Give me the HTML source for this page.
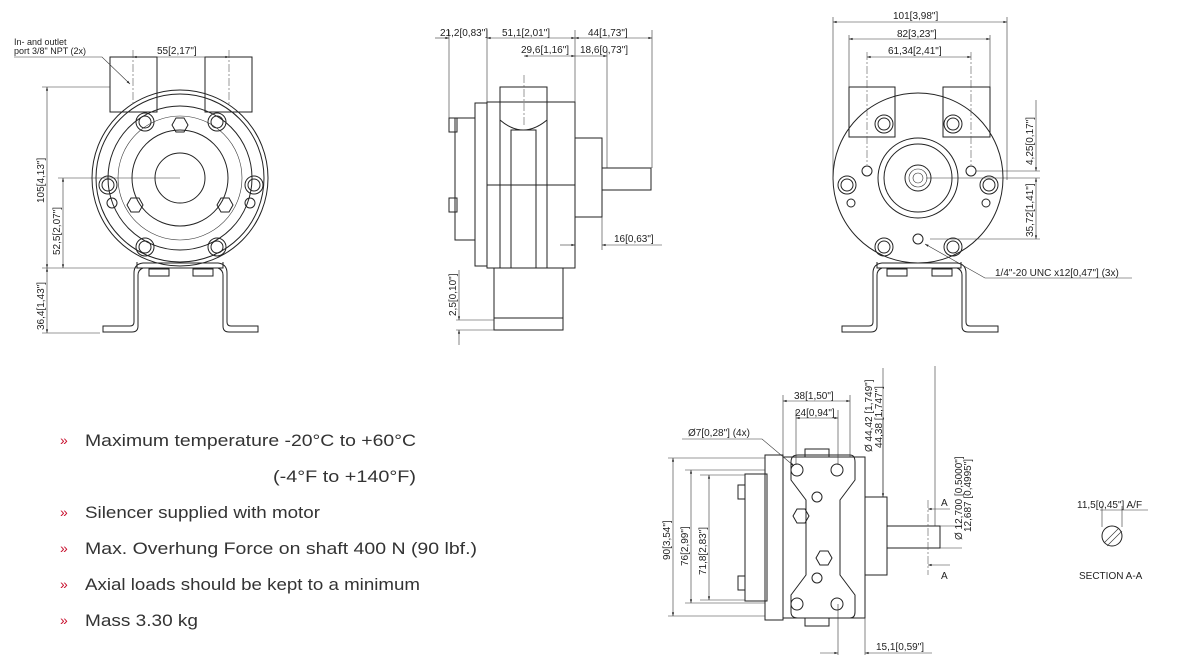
<!DOCTYPE html>
<html><head><meta charset="utf-8"><style>
html,body{margin:0;padding:0;background:#fff}
svg{display:block}
.l{fill:none;stroke:#222;stroke-width:1}
.t{fill:none;stroke:#333;stroke-width:0.6}
.d{font-family:"Liberation Sans",sans-serif;font-size:10px;fill:#222}
.b{font-family:"Liberation Sans",sans-serif;font-size:17px;fill:#333}
.r{font-family:"Liberation Sans",sans-serif;font-size:14px;fill:#c8102e}
.c{fill:none;stroke:#555;stroke-width:0.6;stroke-dasharray:8 2 2 2}
</style></head><body>
<svg width="1178" height="665" viewBox="0 0 1178 665" xmlns="http://www.w3.org/2000/svg">
<defs>
<marker id="a" viewBox="0 0 10 10" refX="10" refY="5" markerWidth="8" markerHeight="6" orient="auto-start-reverse"><path d="M0 2L10 5L0 8z" fill="#222"/></marker>
<g id="bolt"><circle r="9" class="l"/><circle r="6" class="l"/></g>
<g id="hex"><polygon points="-8,0 -4,-7 4,-7 8,0 4,7 -4,7" class="l"/></g>
</defs>

<!-- ===== VIEW 1 front ===== -->
<rect x="110" y="57" width="47" height="55" class="l"/>
<rect x="205" y="57" width="47" height="55" class="l"/>
<circle cx="180" cy="178" r="88" fill="#fff" class="l"/>
<circle cx="180" cy="178" r="84" class="l"/>
<circle cx="180" cy="178" r="72" class="l"/>
<circle cx="180" cy="178" r="62" class="t"/>
<circle cx="180" cy="178" r="48" class="l"/>
<circle cx="180" cy="178" r="25" class="l"/>
<use href="#bolt" x="145" y="122"/><use href="#bolt" x="217" y="122"/>
<use href="#bolt" x="108" y="185"/><use href="#bolt" x="254" y="185"/>
<use href="#bolt" x="145" y="247"/><use href="#bolt" x="217" y="247"/>
<circle cx="112" cy="203" r="5" class="l"/><circle cx="250" cy="203" r="5" class="l"/>
<use href="#hex" x="180" y="125"/><use href="#hex" x="135" y="205"/><use href="#hex" x="225" y="205"/>
<path d="M137 262V268H223V262" class="l"/>
<path d="M103 332H132Q138 332 138 326V275Q138 270 143 268H218Q223 270 223 275V326Q223 332 229 332H258V326H231Q227 326 227 322V273Q227 264 218 263H143Q134 264 134 273V322Q134 326 130 326H103Z" class="l"/>
<rect x="149" y="269" width="20" height="7" class="l"/><rect x="193" y="269" width="20" height="7" class="l"/>
<!-- dims -->
<line x1="133" y1="50" x2="133" y2="105" class="c"/><line x1="229" y1="50" x2="229" y2="105" class="c"/>
<line x1="133" y1="57" x2="229" y2="57" class="t" marker-start="url(#a)" marker-end="url(#a)"/>
<text x="157" y="54" class="d">55[2,17"]</text>
<text x="14" y="45" class="d" style="font-size:9px">In- and outlet</text>
<text x="14" y="54" class="d" style="font-size:9px">port 3/8" NPT (2x)</text>
<path d="M14 57H102L130 84" class="t" marker-end="url(#a)"/>
<line x1="42" y1="87" x2="110" y2="87" class="t"/>
<line x1="42" y1="268" x2="137" y2="268" class="t"/>
<line x1="42" y1="333" x2="100" y2="333" class="t"/>
<line x1="58" y1="178" x2="180" y2="178" class="t"/>
<line x1="47" y1="87" x2="47" y2="268" class="t" marker-start="url(#a)" marker-end="url(#a)"/>
<line x1="63" y1="178" x2="63" y2="268" class="t" marker-start="url(#a)" marker-end="url(#a)"/>
<line x1="47" y1="268" x2="47" y2="333" class="t" marker-start="url(#a)" marker-end="url(#a)"/>
<text transform="translate(44,203) rotate(-90)" class="d">105[4,13"]</text>
<text transform="translate(60,255) rotate(-90)" class="d">52,5[2,07"]</text>
<text transform="translate(44,330) rotate(-90)" class="d">36,4[1,43"]</text>

<!-- ===== VIEW 2 side ===== -->
<rect x="500" y="87" width="47" height="181" class="l"/>
<rect x="487" y="102" width="88" height="166" fill="none" class="l"/>
<path d="M500 120Q523 140 547 120" class="l"/>
<rect x="511" y="130" width="25" height="138" class="l"/>
<line x1="487" y1="185" x2="575" y2="185" class="l"/>
<rect x="475" y="103" width="12" height="163" class="l"/>
<rect x="455" y="118" width="20" height="122" class="l"/>
<rect x="449" y="118" width="8" height="14" class="l"/><rect x="449" y="198" width="8" height="14" class="l"/>
<rect x="575" y="138" width="27" height="79" class="l"/>
<rect x="602" y="168" width="49" height="22" class="l"/>
<rect x="494" y="268" width="69" height="62" class="l"/>
<line x1="494" y1="318" x2="563" y2="318" class="l"/>
<line x1="524" y1="75" x2="524" y2="125" class="c"/>
<!-- dims -->
<line x1="449" y1="30" x2="449" y2="118" class="t"/>
<line x1="487" y1="30" x2="487" y2="102" class="t"/>
<line x1="575" y1="30" x2="575" y2="140" class="t"/>
<line x1="652" y1="30" x2="652" y2="168" class="t"/>
<line x1="607" y1="50" x2="607" y2="168" class="t"/>
<line x1="435" y1="38" x2="449" y2="38" class="t" marker-end="url(#a)"/>
<line x1="487" y1="38" x2="575" y2="38" class="t" marker-start="url(#a)" marker-end="url(#a)"/>
<line x1="575" y1="38" x2="652" y2="38" class="t" marker-start="url(#a)" marker-end="url(#a)"/>
<line x1="524" y1="56" x2="575" y2="56" class="t" marker-start="url(#a)" marker-end="url(#a)"/>
<line x1="575" y1="56" x2="607" y2="56" class="t" marker-end="url(#a)"/>
<text x="440" y="36" class="d">21,2[0,83"]</text>
<text x="502" y="36" class="d">51,1[2,01"]</text>
<text x="588" y="36" class="d">44[1,73"]</text>
<text x="521" y="53" class="d">29,6[1,16"]</text>
<text x="580" y="53" class="d">18,6[0,73"]</text>
<line x1="560" y1="245" x2="575" y2="245" class="t" marker-end="url(#a)"/>
<line x1="602" y1="245" x2="662" y2="245" class="t" marker-start="url(#a)"/>
<line x1="602" y1="217" x2="602" y2="250" class="t"/>
<text x="614" y="242" class="d">16[0,63"]</text>
<line x1="456" y1="320" x2="494" y2="320" class="t"/><line x1="456" y1="330" x2="494" y2="330" class="t"/>
<line x1="459" y1="270" x2="459" y2="320" class="t" marker-end="url(#a)"/>
<line x1="459" y1="345" x2="459" y2="330" class="t" marker-end="url(#a)"/>
<text transform="translate(456,316) rotate(-90)" class="d">2,5[0,10"]</text>

<!-- ===== VIEW 3 rear ===== -->
<rect x="849" y="87" width="46" height="50" class="l"/>
<rect x="943" y="87" width="47" height="50" class="l"/>
<circle cx="918" cy="178" r="85" fill="#fff" class="l"/>
<circle cx="918" cy="178" r="40" class="l"/><circle cx="918" cy="178" r="34" class="l"/>
<circle cx="918" cy="178" r="13" class="l"/><circle cx="918" cy="178" r="9" class="t"/><circle cx="918" cy="178" r="5" class="t"/>
<use href="#bolt" x="884" y="124"/><use href="#bolt" x="953" y="124"/>
<use href="#bolt" x="847" y="185"/><use href="#bolt" x="989" y="185"/>
<use href="#bolt" x="884" y="247"/><use href="#bolt" x="953" y="247"/>
<circle cx="867" cy="171" r="5" class="l"/><circle cx="971" cy="171" r="5" class="l"/>
<circle cx="851" cy="203" r="4" class="l"/><circle cx="986" cy="203" r="4" class="l"/>
<circle cx="918" cy="239" r="5" class="l"/>
<path d="M877 262V268H961V262" class="l"/>
<path d="M842 332H871Q877 332 877 326V275Q877 270 882 268H957Q962 270 962 275V326Q962 332 968 332H998V326H970Q966 326 966 322V273Q966 264 957 263H882Q873 264 873 273V322Q873 326 869 326H842Z" class="l"/>
<rect x="887" y="269" width="20" height="7" class="l"/><rect x="932" y="269" width="20" height="7" class="l"/>
<line x1="833" y1="17" x2="833" y2="180" class="t"/><line x1="1007" y1="17" x2="1007" y2="180" class="t"/>
<line x1="849" y1="35" x2="849" y2="87" class="t"/><line x1="990" y1="35" x2="990" y2="87" class="t"/>
<line x1="867" y1="52" x2="867" y2="165" class="c"/><line x1="971" y1="52" x2="971" y2="165" class="c"/>
<line x1="833" y1="22" x2="1007" y2="22" class="t" marker-start="url(#a)" marker-end="url(#a)"/>
<line x1="849" y1="39" x2="990" y2="39" class="t" marker-start="url(#a)" marker-end="url(#a)"/>
<line x1="867" y1="57" x2="971" y2="57" class="t" marker-start="url(#a)" marker-end="url(#a)"/>
<text x="893" y="19" class="d">101[3,98"]</text>
<text x="897" y="37" class="d">82[3,23"]</text>
<text x="888" y="54" class="d">61,34[2,41"]</text>
<line x1="976" y1="171" x2="1040" y2="171" class="t"/><line x1="926" y1="178" x2="1040" y2="178" class="t"/><line x1="930" y1="239" x2="1040" y2="239" class="t"/>
<line x1="1036" y1="100" x2="1036" y2="171" class="t" marker-end="url(#a)"/>
<line x1="1036" y1="178" x2="1036" y2="239" class="t" marker-start="url(#a)" marker-end="url(#a)"/>
<text transform="translate(1033,165) rotate(-90)" class="d">4,25[0,17"]</text>
<text transform="translate(1033,237) rotate(-90)" class="d">35,72[1,41"]</text>
<path d="M1132 278H985L925 244" class="t" marker-end="url(#a)"/>
<text x="995" y="276" class="d">1/4"-20 UNC x12[0,47"] (3x)</text>

<!-- ===== VIEW 4 bottom ===== -->
<rect x="783" y="457" width="82" height="161" class="l"/>
<rect x="765" y="455" width="18" height="165" class="l"/>
<rect x="745" y="474" width="22" height="127" class="l"/>
<rect x="738" y="485" width="7" height="14" class="l"/><rect x="738" y="576" width="7" height="14" class="l"/>
<path d="M798 455H850Q855 455 855 462V480L840 500V575L855 595V612Q855 618 850 618H798Q791 618 791 612V595L806 575V500L791 480V462Q791 455 798 455Z" class="l"/>
<rect x="805" y="449" width="24" height="8" class="l"/><rect x="805" y="618" width="24" height="8" class="l"/>
<circle cx="797" cy="470" r="6" class="l"/><circle cx="837" cy="470" r="6" class="l"/>
<circle cx="797" cy="604" r="6" class="l"/><circle cx="837" cy="604" r="6" class="l"/>
<use href="#hex" x="801" y="516"/><use href="#hex" x="824" y="558"/>
<circle cx="817" cy="497" r="5" class="l"/><circle cx="817" cy="578" r="5" class="l"/>
<rect x="865" y="497" width="22" height="78" class="l"/>
<rect x="887" y="526" width="53" height="22" class="l"/>
<line x1="940" y1="526" x2="962" y2="526" class="t"/><line x1="940" y1="548" x2="962" y2="548" class="t"/>
<line x1="928" y1="500" x2="928" y2="575" class="c"/>
<line x1="928" y1="509" x2="950" y2="509" class="t" marker-start="url(#a)"/>
<line x1="928" y1="565" x2="950" y2="565" class="t" marker-start="url(#a)"/>
<text x="941" y="506" class="d">A</text><text x="941" y="579" class="d">A</text>
<!-- dims -->
<line x1="783" y1="395" x2="783" y2="457" class="t"/><line x1="850" y1="395" x2="850" y2="457" class="t"/>
<line x1="796" y1="410" x2="796" y2="465" class="t"/><line x1="838" y1="410" x2="838" y2="465" class="t"/>
<line x1="783" y1="401" x2="850" y2="401" class="t" marker-start="url(#a)" marker-end="url(#a)"/>
<line x1="796" y1="418" x2="838" y2="418" class="t" marker-start="url(#a)" marker-end="url(#a)"/>
<text x="794" y="399" class="d">38[1,50"]</text>
<text x="795" y="416" class="d">24[0,94"]</text>
<path d="M682 439H762L794 466" class="t" marker-end="url(#a)"/>
<text x="688" y="436" class="d">Ø7[0,28"] (4x)</text>
<line x1="883" y1="368" x2="883" y2="497" class="t"/>
<line x1="883" y1="420" x2="883" y2="497" class="t" marker-end="url(#a)"/>
<text transform="translate(872,452) rotate(-90)" class="d">Ø 44,42 [1,749"]</text>
<text transform="translate(882,448) rotate(-90)" class="d">44,38 [1,747"]</text>
<line x1="935" y1="366" x2="935" y2="526" class="t"/>
<text transform="translate(962,540) rotate(-90)" class="d">Ø 12,700 [0,5000"]</text>
<text transform="translate(971,532) rotate(-90)" class="d">12,687 [0,4995"]</text>
<line x1="668" y1="458" x2="765" y2="458" class="t"/><line x1="685" y1="470" x2="765" y2="470" class="t"/><line x1="700" y1="475" x2="745" y2="475" class="t"/>
<line x1="668" y1="616" x2="765" y2="616" class="t"/><line x1="685" y1="603" x2="765" y2="603" class="t"/><line x1="700" y1="600" x2="745" y2="600" class="t"/>
<line x1="673" y1="458" x2="673" y2="616" class="t" marker-start="url(#a)" marker-end="url(#a)"/>
<line x1="691" y1="470" x2="691" y2="603" class="t" marker-start="url(#a)" marker-end="url(#a)"/>
<line x1="709" y1="475" x2="709" y2="600" class="t" marker-start="url(#a)" marker-end="url(#a)"/>
<text transform="translate(670,560) rotate(-90)" class="d">90[3,54"]</text>
<text transform="translate(688,566) rotate(-90)" class="d">76[2,99"]</text>
<text transform="translate(706,575) rotate(-90)" class="d">71,8[2,83"]</text>
<line x1="838" y1="604" x2="838" y2="655" class="t"/><line x1="865" y1="618" x2="865" y2="655" class="t"/>
<line x1="820" y1="653" x2="838" y2="653" class="t" marker-end="url(#a)"/>
<line x1="865" y1="653" x2="932" y2="653" class="t" marker-start="url(#a)"/>
<text x="876" y="650" class="d">15,1[0,59"]</text>
<!-- section A-A -->
<circle cx="1112" cy="536" r="10" class="l"/>
<line x1="1104" y1="543" x2="1119" y2="528" class="t"/><line x1="1107" y1="546" x2="1122" y2="531" class="t"/>
<line x1="1100" y1="510" x2="1148" y2="510" class="t"/>
<line x1="1102" y1="506" x2="1102" y2="527" class="t"/><line x1="1122" y1="506" x2="1122" y2="527" class="t"/>
<text x="1077" y="508" class="d">11,5[0,45"] A/F</text>
<text x="1079" y="579" class="d">SECTION A-A</text>

<!-- ===== bullets ===== -->
<text x="60" y="445" class="r">»</text><text x="85" y="446" class="b" textLength="331" lengthAdjust="spacingAndGlyphs">Maximum temperature -20°C to +60°C</text>
<text x="273" y="482" class="b" textLength="143" lengthAdjust="spacingAndGlyphs">(-4°F to +140°F)</text>
<text x="60" y="517" class="r">»</text><text x="85" y="518" class="b" textLength="235" lengthAdjust="spacingAndGlyphs">Silencer supplied with motor</text>
<text x="60" y="553" class="r">»</text><text x="85" y="554" class="b" textLength="392" lengthAdjust="spacingAndGlyphs">Max. Overhung Force on shaft 400 N (90 lbf.)</text>
<text x="60" y="589" class="r">»</text><text x="85" y="590" class="b" textLength="335" lengthAdjust="spacingAndGlyphs">Axial loads should be kept to a minimum</text>
<text x="60" y="625" class="r">»</text><text x="85" y="626" class="b" textLength="113" lengthAdjust="spacingAndGlyphs">Mass 3.30 kg</text>
</svg>
</body></html>
